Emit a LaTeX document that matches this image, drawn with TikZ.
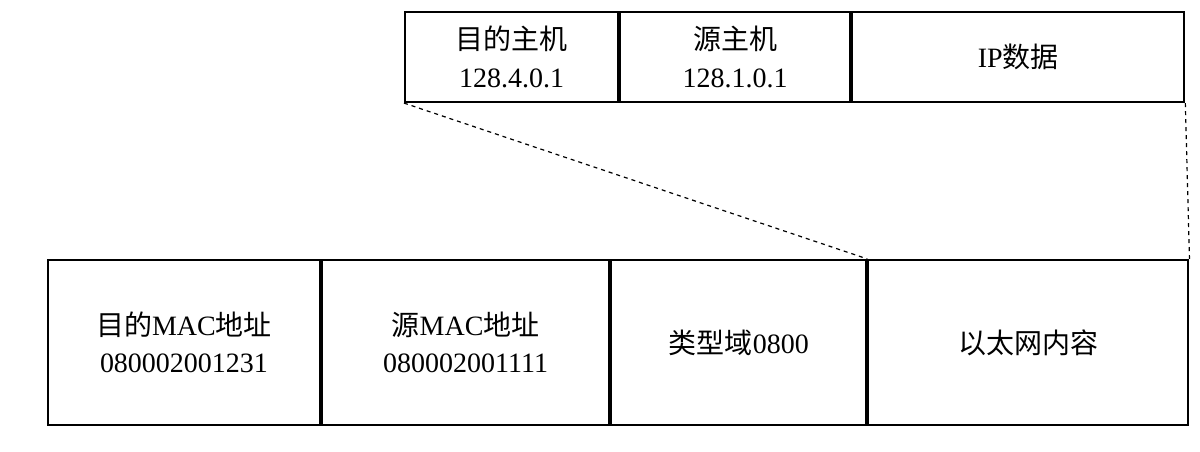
\documentclass[tikz,border=0pt]{standalone}
\usepackage{fontspec}
\setmainfont{Liberation Serif}
\newfontfamily\cjk{Noto Sans CJK SC}
\usetikzlibrary{positioning}
\tikzset{
  Cell/.style={draw, line width=1.6pt, rectangle, inner sep=0pt, align=center, font=\fontsize{21}{28}\selectfont},
  Top/.style={Cell, minimum height=67.5pt},
  Bottom/.style={Cell, minimum height=123.75pt},
  Zoom/.style={dashed, line width=0.9pt}
}
\begin{document}
\begin{tikzpicture}[x=0.75pt,y=-0.75pt]
    \useasboundingbox (0,0) rectangle (1200,452);
    \node[Top, minimum width=159.75pt] (dst)  at (511.5,57) {{\cjk 目的主机}\\128.4.0.1};
    \node[Top, minimum width=172.5pt, right=0pt of dst] (src) {{\cjk 源主机}\\128.1.0.1};
    \node[Top, minimum width=249pt, right=0pt of src] (ipdata) {IP{\cjk 数据}};
    \node[Bottom, minimum width=204pt] (dmac) at (184,342.5) {{\cjk 目的}MAC{\cjk 地址}\\080002001231};
    \node[Bottom, minimum width=215.25pt, right=0pt of dmac] (smac) {{\cjk 源}MAC{\cjk 地址}\\080002001111};
    \node[Bottom, minimum width=191.25pt, right=0pt of smac] (etype) {{\cjk 类型域}0800};
    \node[Bottom, minimum width=240pt, right=0pt of etype] (payload) {{\cjk 以太网内容}};
    \draw[Zoom] (dst.south west)    -- (payload.north west);
    \draw[Zoom] (ipdata.south east) -- (payload.north east);
  \end{tikzpicture}
\end{document}
